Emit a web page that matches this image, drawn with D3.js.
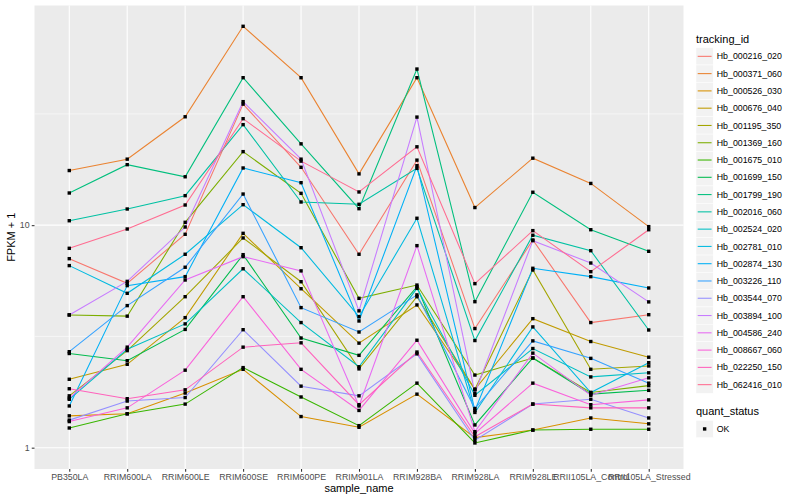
<!DOCTYPE html>
<html>
<head>
<meta charset="utf-8">
<script src="https://cdn.jsdelivr.net/npm/d3@7"></script>
<style>
  body { margin: 0; background: #fff; }
  svg { font-family: "Liberation Sans", Arial, sans-serif; }
</style>
</head>
<body>
<div id="chart"></div>
<script>
// Categories on the x axis
const samples = ['PB350LA', 'RRIM600LA', 'RRIM600LE', 'RRIM600SE', 'RRIM600PE', 'RRIM901LA',
  'RRIM928BA', 'RRIM928LA', 'RRIM928LE', 'RRII105LA_Control', 'RRII105LA_Stressed'];

// Gene ids (legend order)
const trackingIds = ['Hb_000216_020', 'Hb_000371_060', 'Hb_000526_030', 'Hb_000676_040', 'Hb_001195_350',
  'Hb_001369_160', 'Hb_001675_010', 'Hb_001699_150', 'Hb_001799_190', 'Hb_002016_060',
  'Hb_002524_020', 'Hb_002781_010', 'Hb_002874_130', 'Hb_003226_110', 'Hb_003544_070',
  'Hb_003894_100', 'Hb_004586_240', 'Hb_008667_060', 'Hb_022250_150', 'Hb_062416_010'];

// FPKM + 1 per gene, one value per sample
const fpkm = [
  [7.07, 5.48, 9.10, 35.0, 18.2, 7.40, 19.6, 3.43, 8.58, 3.65, 3.96],
  [17.6, 19.8, 30.7, 78.3, 46.0, 17.0, 46.0, 12.0, 20.0, 15.4, 9.85],
  [1.39, 1.42, 1.76, 2.25, 1.38, 1.235, 1.74, 1.11, 1.20, 1.36, 1.28],
  [2.03, 2.37, 3.84, 9.19, 5.18, 2.95, 4.38, 1.83, 3.80, 3.00, 2.55],
  [1.71, 2.73, 4.77, 8.76, 5.57, 2.26, 4.77, 1.83, 6.29, 2.25, 2.33],
  [3.95, 3.90, 10.3, 21.4, 13.9, 4.69, 5.38, 2.12, 2.53, 1.77, 1.90],
  [1.226, 1.42, 1.57, 2.29, 1.69, 1.256, 1.95, 1.05, 1.20, 1.21, 1.21],
  [2.65, 2.46, 3.40, 7.37, 3.11, 2.60, 5.29, 1.265, 2.53, 1.74, 1.81],
  [13.95, 18.7, 16.5, 46.0, 23.2, 11.86, 50.3, 4.53, 14.06, 9.54, 7.63],
  [10.47, 11.82, 13.57, 28.3, 12.71, 12.41, 18.0, 3.03, 9.01, 7.68, 3.38],
  [1.65, 2.77, 3.60, 6.37, 3.65, 2.31, 5.20, 1.72, 2.79, 2.08, 2.17],
  [6.58, 4.94, 7.40, 12.36, 7.92, 3.88, 10.74, 1.44, 3.49, 1.77, 2.41],
  [1.54, 5.35, 5.87, 18.07, 15.52, 3.71, 18.5, 1.47, 6.40, 5.87, 5.22],
  [2.70, 4.35, 6.47, 13.8, 4.26, 3.31, 4.86, 1.50, 3.02, 2.52, 1.95],
  [1.33, 1.62, 1.68, 3.39, 1.89, 1.71, 2.64, 1.08, 1.57, 1.65, 1.36],
  [3.95, 5.59, 9.81, 35.9, 19.8, 4.12, 30.6, 1.76, 8.52, 6.76, 4.52],
  [1.67, 2.83, 5.67, 7.22, 6.23, 1.54, 8.09, 1.18, 2.66, 1.72, 2.06],
  [1.31, 1.51, 2.23, 4.77, 2.25, 1.47, 3.04, 1.16, 1.95, 1.56, 1.64],
  [1.84, 1.66, 1.82, 2.83, 2.96, 1.56, 2.69, 1.12, 1.57, 1.51, 1.51],
  [7.87, 9.61, 12.32, 30.1, 19.4, 14.1, 22.5, 5.46, 9.45, 6.18, 9.54]
];

// ggplot default hue palette for 20 levels
const colors = ['#F8766D', '#EA8331', '#D89000', '#C09B00', '#A3A500', '#7CAE00', '#39B600', '#00BB4E',
  '#00BF7D', '#00C1A3', '#00BFC4', '#00BAE0', '#00B0F6', '#35A2FF', '#9590FF', '#C77CFF',
  '#E76BF3', '#FA62DB', '#FF62BC', '#FF6C91'];

const yMajor = [1, 10];
const yMinor = [3.1623, 31.623];
const statusLevels = ['OK'];

const width = 800, height = 500;
const panel = { left: 34.5, right: 683.5, top: 5.5, bottom: 469 };

const svg = d3.select('#chart').append('svg')
  .attr('width', width)
  .attr('height', height);

const x = d3.scalePoint()
  .domain(samples)
  .range([panel.left, panel.right])
  .padding(0.6);

const y = d3.scaleLog()
  .domain([0.802, 97.1])
  .range([panel.bottom, panel.top]);

// Panel background
svg.append('rect')
  .attr('x', panel.left).attr('y', panel.top)
  .attr('width', panel.right - panel.left)
  .attr('height', panel.bottom - panel.top)
  .attr('fill', '#EBEBEB');

// Grid
const grid = svg.append('g');
grid.selectAll('.minor').data(yMinor).enter().append('line')
  .attr('x1', panel.left).attr('x2', panel.right)
  .attr('y1', d => y(d)).attr('y2', d => y(d))
  .attr('stroke', '#fff').attr('stroke-width', 0.55);
grid.selectAll('.major').data(yMajor).enter().append('line')
  .attr('x1', panel.left).attr('x2', panel.right)
  .attr('y1', d => y(d)).attr('y2', d => y(d))
  .attr('stroke', '#fff').attr('stroke-width', 1.1);
grid.selectAll('.vmajor').data(samples).enter().append('line')
  .attr('x1', d => x(d)).attr('x2', d => x(d))
  .attr('y1', panel.top).attr('y2', panel.bottom)
  .attr('stroke', '#fff').attr('stroke-width', 1.1);

// Lines
const series = trackingIds.map((id, i) => ({
  id,
  color: colors[i],
  values: samples.map((s, j) => ({ sample: s, value: fpkm[i][j] }))
}));

const line = d3.line()
  .x(d => x(d.sample))
  .y(d => y(d.value));

svg.append('g').selectAll('path')
  .data(series)
  .enter().append('path')
  .attr('d', d => line(d.values))
  .attr('fill', 'none')
  .attr('stroke', d => d.color)
  .attr('stroke-width', 1.07);

// Points (black squares)
const pts = series.flatMap(s => s.values);
svg.append('g').selectAll('rect')
  .data(pts)
  .enter().append('rect')
  .attr('x', d => x(d.sample) - 1.7)
  .attr('y', d => y(d.value) - 1.7)
  .attr('width', 3.4).attr('height', 3.4)
  .attr('fill', '#000');

// Axes
const yAxis = d3.axisLeft(y).tickValues(yMajor).tickFormat(d3.format('d')).tickSize(2.75).tickPadding(2.2);
const xAxis = d3.axisBottom(x).tickSize(2.75).tickPadding(2.2);

const gy = svg.append('g').attr('transform', `translate(${panel.left},0)`).call(yAxis);
const gx = svg.append('g').attr('transform', `translate(0,${panel.bottom})`).call(xAxis);
[gy, gx].forEach(g => {
  g.select('.domain').remove();
  g.selectAll('.tick line').attr('stroke', '#333333').attr('stroke-width', 1.07);
  g.selectAll('.tick text').attr('fill', '#4D4D4D').style('font-size', '8.8px')
    .style('font-family', '"Liberation Sans", Arial, sans-serif');
});

// Axis titles
svg.append('text')
  .attr('x', (panel.left + panel.right) / 2)
  .attr('y', 492)
  .attr('text-anchor', 'middle')
  .style('font-size', '11px')
  .text('sample_name');

svg.append('text')
  .attr('transform', `translate(15,${(panel.top + panel.bottom) / 2}) rotate(-90)`)
  .attr('text-anchor', 'middle')
  .style('font-size', '11px')
  .text('FPKM + 1');

// Legend: tracking_id
const legend = svg.append('g').attr('transform', 'translate(696,0)');
legend.append('text')
  .attr('x', 0).attr('y', 43)
  .style('font-size', '11px')
  .text('tracking_id');

const keySize = 17.28;
const keys = legend.selectAll('.key')
  .data(series)
  .enter().append('g')
  .attr('transform', (d, i) => `translate(0,${47.7 + i * keySize})`);
keys.append('rect')
  .attr('width', keySize).attr('height', keySize)
  .attr('fill', '#F2F2F2').attr('stroke', '#fff').attr('stroke-width', 0.5);
keys.append('line')
  .attr('x1', 1.7).attr('x2', keySize - 1.7)
  .attr('y1', keySize / 2).attr('y2', keySize / 2)
  .attr('stroke', d => d.color).attr('stroke-width', 1.07);
keys.append('text')
  .attr('x', keySize + 3.5).attr('y', keySize / 2 + 3.1)
  .style('font-size', '8.8px')
  .text(d => d.id);

// Legend: quant_status
legend.append('text')
  .attr('x', 0).attr('y', 415)
  .style('font-size', '11px')
  .text('quant_status');

const sKeys = legend.selectAll('.skey')
  .data(statusLevels)
  .enter().append('g')
  .attr('transform', (d, i) => `translate(0,${420.3 + i * keySize})`);
sKeys.append('rect')
  .attr('width', keySize).attr('height', keySize)
  .attr('fill', '#F2F2F2').attr('stroke', '#fff').attr('stroke-width', 0.5);
sKeys.append('rect')
  .attr('x', keySize / 2 - 1.7).attr('y', keySize / 2 - 1.7)
  .attr('width', 3.4).attr('height', 3.4)
  .attr('fill', '#000');
sKeys.append('text')
  .attr('x', keySize + 3.5).attr('y', keySize / 2 + 3.1)
  .style('font-size', '8.8px')
  .text(d => d);
</script>
</body>
</html>
